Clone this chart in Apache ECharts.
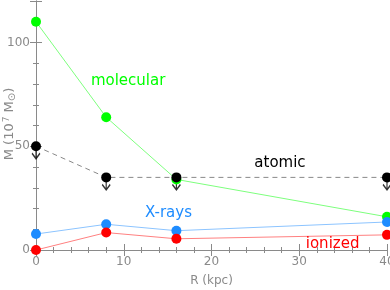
<!DOCTYPE html>
<html><head><meta charset="utf-8">
<script src="https://cdn.jsdelivr.net/npm/echarts@6/dist/echarts.min.js"></script>
<style>html,body{margin:0;padding:0;background:#fff}#c{width:390px;height:290px}</style>
</head><body><div id="c"></div>
<script>
var radii = [0, 8, 16, 40];
var molecular = [110, 64, 34, 16];
var atomic = [50, 35, 35, 35];
var xrays = [7.7, 12.4, 9.3, 13.5];
var ionized = [0, 8.4, 5.4, 7.3];
var xTicks = [0, 10, 20, 30, 40];
var yTicks = [0, 50, 100];
var labelNames = ['molecular', 'atomic', 'X-rays', 'ionized'];
var labelPos = [[10.5, 81.5], [27.8, 41.8], [15.1, 17.8], [33.8, 3.0]];

function pairs(vals){ return radii.map(function(r,i){ return [r, vals[i]]; }); }
var gray = '#8a8a8a';
var font = 'DejaVu Sans';
function axisCommon(show){
  return {
    axisLine:{show:true, lineStyle:{color:gray, width:1}},
    axisTick:{show:true, inside:true, length:6, lineStyle:{color:gray}},
    minorTick:{show:true, splitNumber:5, length:3, lineStyle:{color:gray}},
    splitLine:{show:false},
    axisLabel:{show:show, color:gray, fontFamily:font, fontSize:12, margin:6}
  };
}
function lab(i, color){
  return {symbol:'circle', symbolSize:1, itemStyle:{color:'rgba(0,0,0,0)'},
    data:[{coord:labelPos[i], value:labelNames[i]}],
    label:{show:true, position:'inside', formatter:labelNames[i], color:color, fontFamily:font, fontSize:15}};
}
var yAx = Object.assign({type:'value', min:0, max:120, interval:50, position:'left'}, axisCommon(true));
yAx.axisLabel.showMaxLabel = false;
var opt = {
  animation:false,
  grid:{left:36, right:3, top:1, bottom:40, containLabel:false, outerBoundsMode:'none'},
  graphic:[{
    type:'text', x:10, y:124, rotation:Math.PI/2,
    style:{text:'{a|M (10}{s|7}{a| M}{b|⊙}{a|)}', align:'center', verticalAlign:'middle',
      fill:gray, font:'13px "DejaVu Sans"',
      rich:{a:{fill:gray, fontFamily:font, fontSize:13, color:gray},
            s:{fill:gray, color:gray, fontFamily:font, fontSize:9, verticalAlign:'top', padding:[0,0,5,1]},
            b:{fill:gray, color:gray, fontFamily:font, fontSize:10, verticalAlign:'bottom', padding:[5,0,0,0]}}}
  }],
  xAxis:[
    Object.assign({type:'value', min:0, max:40, interval:10, position:'bottom',
      name:'R (kpc)', nameLocation:'middle', nameGap:25,
      nameTextStyle:{color:gray, fontFamily:font, fontSize:12}}, axisCommon(true)),
    Object.assign({type:'value', min:0, max:40, interval:10, position:'top'}, axisCommon(false))
  ],
  yAxis:[
    yAx,
    Object.assign({type:'value', min:0, max:120, interval:50, position:'right'}, axisCommon(false))
  ],
  series:[
    {type:'line', data:pairs(molecular), symbol:'circle', symbolSize:10, z:3,
     lineStyle:{color:'#7dff7d', width:1}, itemStyle:{color:'#00ff00'}, markPoint:lab(0,'#00ff00')},
    {type:'line', data:pairs(xrays), symbol:'circle', symbolSize:10, z:3,
     lineStyle:{color:'#8cc4ff', width:1}, itemStyle:{color:'#1e8cff'}, markPoint:lab(2,'#1e8cff')},
    {type:'line', data:pairs(ionized), symbol:'circle', symbolSize:10, z:3,
     lineStyle:{color:'#ff8080', width:1}, itemStyle:{color:'#ff0000'}, markPoint:lab(3,'#ff0000')},
    {type:'scatter', data:pairs(atomic), symbol:'path://M5,0 L5,12 M0.5,7 L5,12 L9.5,7', symbolSize:[8,13],
     symbolOffset:[0,6], z:2, itemStyle:{color:'none', borderColor:'#000', borderWidth:1.5}},
    {type:'line', data:pairs(atomic), symbol:'circle', symbolSize:10, z:4,
     lineStyle:{color:'#888', width:1, type:[5,4]}, itemStyle:{color:'#000'}, markPoint:lab(1,'#000')}
  ]
};
var ch = echarts.init(document.getElementById('c'), null, {renderer:'canvas'});
ch.setOption(opt);
</script></body></html>
